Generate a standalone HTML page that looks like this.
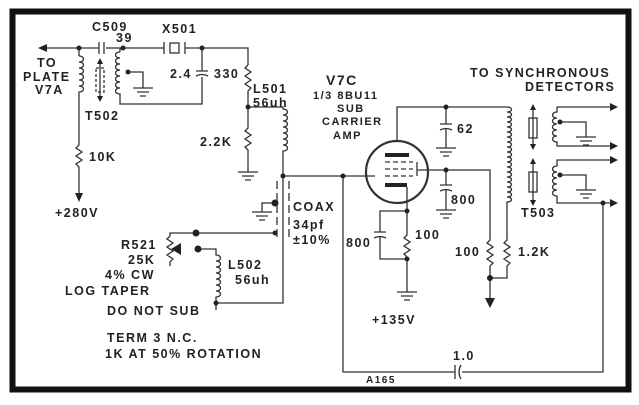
<!DOCTYPE html><html><head><style>
body{margin:0;background:#fff}
svg text{font-family:"Liberation Sans",sans-serif;font-size:12.5px;font-weight:bold;fill:#222;letter-spacing:1.5px}
</style></head><body>
<svg width="639" height="400" viewBox="0 0 639 400" xmlns="http://www.w3.org/2000/svg">
<defs>
<g id="gnd"><path d="M-10 0H10M-6 4H6M-3 8H3" stroke="#333" stroke-width="1.2" fill="none"/></g>
</defs>
<rect x="12.5" y="11.5" width="616" height="378" fill="none" stroke="#111" stroke-width="6"/>
<g stroke="#333" stroke-width="1.3" fill="none">
<!-- top left -->
<path d="M42 48H99M106 48H164M185 48H248V65"/>
<path d="M99 42V54M104 42V54"/>
<path d="M164 42V54M185 42V54"/><rect x="170" y="43" width="9" height="10"/>
<path d="M79 48V56"/>
<path d="M79 56c6 0 6 6 0 6c6 0 6 6 0 6c6 0 6 6 0 6c6 0 6 6 0 6c6 0 6 6 0 6c6 0 6 6 0 6V145l-3 3 6 4-6 4 6 4-6 4 3 3V196"/>
<path d="M120 52c-6 0-6 6 0 6c-6 0-6 6 0 6c-6 0-6 6 0 6c-6 0-6 6 0 6c-6 0-6 6 0 6c-6 0-6 6 0 6c-6 0-6 6 0 6V104H202V77M202 48V71M196 71H208M196 76q6-3 12 0"/>
<path d="M120 52V48"/>
<path d="M128 72H143V88"/>
<rect x="96" y="68" width="8" height="24" stroke-dasharray="3 2"/>
<path d="M100 62V98"/>
<path d="M248 65l-3 3 6 4-6 4 6 4-6 4 6 4-3 3V128l-3 3 6 4-6 4 6 4-6 4 3 3V172"/>
<path d="M248 107H283V109c6 0 6 6 0 6c6 0 6 6 0 6c6 0 6 6 0 6c6 0 6 6 0 6c6 0 6 6 0 6c6 0 6 6 0 6c6 0 6 6 0 6V303H216"/>
<!-- coax -->
<path d="M277 181V238M289 181V238" stroke-dasharray="8 4"/>
<path d="M275 203H262V212M275 233H170V236l-3 3 6 4-6 4 6 4-6 4 6 4-3 3V266"/>
<path d="M198 249H216V255c6 0 6 6 0 6c6 0 6 6 0 6c6 0 6 6 0 6c6 0 6 6 0 6c6 0 6 6 0 6c6 0 6 6 0 6c6 0 6 6 0 6V310"/>
<!-- grid line & feedback -->
<path d="M283 176H375M343 176V372H455M462 372H603V203"/>
<path d="M455 365V379M461 365q-4 7 0 14"/>
<!-- tube -->
<circle cx="397" cy="172" r="31" stroke-width="2.2"/>
<path d="M397 141V107H507"/>
<path d="M446 107V124M440 124H452M440 130q6-3 12 0M446 129V148"/>
<path d="M385 162H413M385 169H413M385 176H413" stroke-dasharray="5 3"/>
<path d="M417 162V176M417 170H490V240l-3 3 6 4-6 4 6 4-6 4 6 4-3 3V300"/>
<path d="M446 170V185M440 185H452M440 191q6-3 12 0M446 190V210"/>
<path d="M407 187V235l-3 3 6 4-6 4 6 4-6 4 3 3V292"/>
<path d="M407 211H380V232M374 232H386M374 238q6-3 12 0M380 237V259H407"/>
<!-- T503 -->
<path d="M507 107c6 0 6 5 0 5c6 0 6 5 0 5c6 0 6 5 0 5c6 0 6 5 0 5c6 0 6 5 0 5c6 0 6 5 0 5c6 0 6 5 0 5c6 0 6 5 0 5c6 0 6 5 0 5c6 0 6 5 0 5c6 0 6 5 0 5c6 0 6 5 0 5c6 0 6 5 0 5c6 0 6 5 0 5c6 0 6 5 0 5c6 0 6 5 0 5c6 0 6 5 0 5c6 0 6 5 0 5c6 0 6 5 0 5V240l-3 3 6 4-6 4 6 4-6 4 6 4-3 3V278H490"/>
<rect x="529" y="118" width="8" height="20"/><path d="M533 108V146"/>
<rect x="529" y="172" width="8" height="20"/><path d="M533 162V202"/>
<path d="M612 107H557V112c-6 0-6 6 0 6c-6 0-6 6 0 6c-6 0-6 6 0 6c-6 0-6 6 0 6c-6 0-6 6 0 6V146H612"/>
<path d="M560 122H586V137"/>
<path d="M612 160H557V166c-6 0-6 6 0 6c-6 0-6 6 0 6c-6 0-6 6 0 6c-6 0-6 6 0 6c-6 0-6 6 0 6V203H612"/>
<path d="M560 175H586V190"/>
</g>
<g fill="#222">
<path d="M38 48l9-4v8z"/>
<path d="M79 202l-4-9h8z"/>
<path d="M100 58l-3 6h6zM100 102l-3-6h6z"/>
<path d="M533 104l-3 6h6zM533 150l-3-6h6zM533 158l-3 6h6zM533 206l-3-6h6z"/>
<path d="M618 107l-8-4v8zM618 146l-8-4v8zM618 160l-8-4v8zM618 203l-8-4v8z"/>
<path d="M490 308l-5-10h10z"/>
<path d="M171 249l10-6v12z"/>
<circle cx="79" cy="48" r="2.5"/><circle cx="123" cy="48" r="2.5"/><circle cx="202" cy="48" r="2.5"/>
<circle cx="128" cy="72" r="2.5"/><circle cx="248" cy="107" r="2.5"/><circle cx="283" cy="176" r="2.5"/>
<circle cx="275" cy="203" r="3.5"/><circle cx="275" cy="233" r="2.5"/><circle cx="196" cy="233" r="3.5"/><circle cx="198" cy="249" r="3.5"/><circle cx="216" cy="303" r="2.5"/>
<circle cx="343" cy="176" r="2.5"/><circle cx="446" cy="107" r="2.5"/><circle cx="446" cy="170" r="2.5"/>
<circle cx="407" cy="211" r="2.5"/><circle cx="407" cy="259" r="2.5"/><circle cx="490" cy="278" r="3"/>
<circle cx="560" cy="122" r="2.5"/><circle cx="560" cy="175" r="2.5"/><circle cx="603" cy="203" r="2.5"/>
<rect x="385" y="153" width="24" height="4"/><rect x="385" y="183" width="22" height="4"/>
</g>
<g stroke="#333" stroke-width="1.2" fill="none">
<use href="#gnd" x="143" y="88"/><use href="#gnd" x="248" y="172"/><use href="#gnd" x="262" y="212"/>
<use href="#gnd" x="446" y="148"/><use href="#gnd" x="446" y="210"/><use href="#gnd" x="407" y="292"/>
<use href="#gnd" x="586" y="137"/><use href="#gnd" x="586" y="190"/>
</g>
<text x="37" y="67">TO</text><text x="23" y="81">PLATE</text><text x="35" y="94">V7A</text>
<text x="92" y="31">C509</text><text x="116" y="42">39</text><text x="162" y="33">X501</text>
<text x="170" y="78">2.4</text><text x="214" y="78">330</text>
<text x="253" y="93">L501</text><text x="253" y="107">56uh</text>
<text x="85" y="120">T502</text><text x="200" y="146">2.2K</text><text x="89" y="161">10K</text>
<text x="55" y="217">+280V</text>
<text x="293" y="211">COAX</text><text x="293" y="229">34pf</text><text x="293" y="244">±10%</text>
<text x="121" y="249">R521</text><text x="128" y="264">25K</text><text x="105" y="279">4% CW</text><text x="65" y="295">LOG TAPER</text>
<text x="228" y="269">L502</text><text x="235" y="284">56uh</text>
<text x="107" y="315">DO NOT SUB</text><text x="107" y="342">TERM 3 N.C.</text><text x="105" y="358">1K AT 50% ROTATION</text>
<text x="326" y="85" style="font-size:14px">V7C</text><text x="313" y="99" style="font-size:11px">1/3 8BU11</text>
<text x="337" y="112" style="font-size:11px">SUB</text><text x="322" y="125" style="font-size:11px">CARRIER</text><text x="333" y="139" style="font-size:11px">AMP</text>
<text x="470" y="77">TO SYNCHRONOUS</text><text x="525" y="91">DETECTORS</text>
<text x="457" y="133">62</text><text x="451" y="204">800</text><text x="521" y="217">T503</text>
<text x="346" y="247">800</text><text x="415" y="239">100</text>
<text x="455" y="256">100</text><text x="518" y="256">1.2K</text>
<text x="372" y="324">+135V</text><text x="453" y="360">1.0</text>
<text x="366" y="383" style="font-size:10px">A165</text>
</svg>
</body></html>
